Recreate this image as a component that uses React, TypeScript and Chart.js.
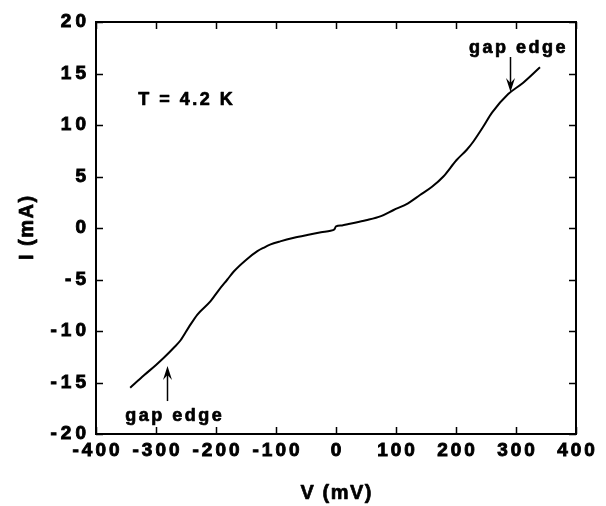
import React, { useEffect, useRef } from 'react';
import { Chart, registerables } from 'chart.js';

Chart.register(...registerables);

// Current–voltage curve (V in mV, I in mA)
const voltage = [-343, -320, -300, -287, -270, -259, -245, -231, -209, -195, -181, -170, -150, -131, -120, -110, -93, -70, -48, -25, -9, -3, 0, 10, 21, 50, 75, 96, 120, 140, 160, 179, 201, 218, 229, 245, 260, 287, 312, 340];
const current = [-15.5, -14.3, -13.3, -12.6, -11.6, -10.9, -9.6, -8.4, -7.1, -6.0, -5.0, -4.2, -3.1, -2.25, -1.9, -1.62, -1.3, -0.95, -0.68, -0.42, -0.26, -0.15, 0.15, 0.25, 0.39, 0.75, 1.15, 1.75, 2.4, 3.2, 4.0, 5.0, 6.6, 7.6, 8.4, 9.8, 11.2, 13.0, 14.1, 15.6];

// Axis settings
const xMin = -400;
const xMax = 400;
const xStep = 100;
const yMin = -20;
const yMax = 20;
const yStep = 5;
const xTitle = 'V (mV)';
const yTitle = 'I (mA)';

// Annotations (data coordinates)
const noteTexts = ['T = 4.2 K', 'gap edge', 'gap edge'];
const noteV = [-251, 302, -271];
const noteI = [11.9, 17.0, -18.7];
const arrowV = [290, -282];
const arrowFromI = [16.6, -16.8];
const arrowToI = [13.2, -13.4];

const FONT = '"Liberation Sans", Arial, Helvetica, sans-serif';

const framePlugin = {
  id: 'frameTicks',
  afterLayout(chart: any) {
    const spacing: Record<string, number> = { x: 3, y: 4 };
    ['x', 'y'].forEach((id) => {
      const s = chart.scales[id];
      if (s && !s.__patched) {
        const orig = s.drawLabels;
        s.drawLabels = function (area: any) {
          const c = this.ctx;
          c.save();
          const sp = spacing[id];
          c.letterSpacing = sp + 'px';
          c.translate(id === 'x' ? sp / 2 : sp, 0);
          orig.call(this, area);
          c.restore();
        };
        const origT = s.drawTitle;
        s.drawTitle = function () {
          const c = this.ctx;
          c.save();
          c.letterSpacing = '1.5px';
          if (id === 'x') c.translate(0.75, 0);
          else c.translate(0, -0.75);
          const f = c.fillText;
          c.fillText = function (t: string, tx: number, ty: number, mw?: number) {
            if (mw !== undefined) f.call(c, t, tx, ty, mw);
            else f.call(c, t, tx, ty);
            c.lineWidth = 0.7;
            c.strokeStyle = '#000';
            c.lineJoin = 'round';
            if (mw !== undefined) c.strokeText(t, tx, ty, mw);
            else c.strokeText(t, tx, ty);
          };
          origT.call(this);
          delete c.fillText;
          c.restore();
        };
        s.__patched = true;
      }
    });
  },
  afterDatasetsDraw(chart: any) {
    const { ctx, chartArea: a, scales } = chart;
    const x = scales.x;
    const y = scales.y;
    ctx.save();
    ctx.strokeStyle = '#000';
    ctx.lineWidth = 1.5;
    const L = 7;
    ctx.beginPath();
    x.ticks.forEach((t: any) => {
      const px = Math.round(x.getPixelForValue(t.value)) + 0.5;
      ctx.moveTo(px, a.bottom);
      ctx.lineTo(px, a.bottom - L);
      ctx.moveTo(px, a.top);
      ctx.lineTo(px, a.top + L);
    });
    y.ticks.forEach((t: any) => {
      const py = Math.round(y.getPixelForValue(t.value)) + 0.5;
      ctx.moveTo(a.left, py);
      ctx.lineTo(a.left + L, py);
      ctx.moveTo(a.right, py);
      ctx.lineTo(a.right - L, py);
    });
    ctx.stroke();
    ctx.lineWidth = 2;
    ctx.strokeRect(a.left, a.top, a.right - a.left, a.bottom - a.top);

    // annotations
    ctx.fillStyle = '#000';
    ctx.font = `bold 18px ${FONT}`;
    ctx.textBaseline = 'alphabetic';
    ctx.textAlign = 'left';
    ctx.lineWidth = 0.7;
    ctx.lineJoin = 'round';
    const sp = 2.5;
    (ctx as any).letterSpacing = sp + 'px';
    noteTexts.forEach((txt, i) => {
      const w = ctx.measureText(txt).width - sp;
      const cx = x.getPixelForValue(noteV[i]);
      const cy = y.getPixelForValue(noteI[i]);
      ctx.fillText(txt, cx - w / 2, cy);
      ctx.strokeText(txt, cx - w / 2, cy);
    });
    (ctx as any).letterSpacing = '0px';

    // arrows
    arrowV.forEach((v, i) => {
      const px = Math.round(x.getPixelForValue(v)) + 0.5;
      const y0 = y.getPixelForValue(arrowFromI[i]);
      const y1 = y.getPixelForValue(arrowToI[i]);
      const dir = y1 > y0 ? 1 : -1;
      ctx.lineWidth = 1.5;
      ctx.beginPath();
      ctx.moveTo(px, y0);
      ctx.lineTo(px, y1 - dir * 6);
      ctx.stroke();
      ctx.beginPath();
      ctx.moveTo(px, y1);
      ctx.lineTo(px - 4.5, y1 - dir * 14);
      ctx.lineTo(px, y1 - dir * 9);
      ctx.lineTo(px + 4.5, y1 - dir * 14);
      ctx.closePath();
      ctx.fill();
    });
    ctx.restore();
  },
};

export default function App() {
  const ref = useRef<HTMLCanvasElement | null>(null);
  useEffect(() => {
    if (!ref.current) return;
    const chart = new Chart(ref.current, {
      type: 'line',
      data: {
        datasets: [
          {
            data: voltage.map((v, i) => ({ x: v, y: current[i] })),
            borderColor: '#000',
            borderWidth: 2,
            pointRadius: 0,
            cubicInterpolationMode: 'monotone',
            fill: false,
          },
        ],
      },
      options: {
        responsive: false,
        animation: false,
        layout: { padding: { left: 0, top: 22, right: 30, bottom: 0 } },
        plugins: { legend: { display: false }, tooltip: { enabled: false } },
        scales: {
          x: {
            type: 'linear',
            min: xMin,
            max: xMax,
            ticks: {
              stepSize: xStep,
              color: '#000',
              padding: 5,
              textStrokeColor: '#000',
              textStrokeWidth: 0.9,
              font: { family: FONT, size: 19, weight: 'bold' },
            },
            grid: { display: false, drawTicks: false },
            border: { display: false },
            title: {
              display: true,
              text: xTitle,
              color: '#000',
              font: { family: FONT, size: 20, weight: 'bold' },
              padding: { top: 0, bottom: 1 },
            },
            afterFit: (s: any) => {
              s.height = 72;
            },
          },
          y: {
            type: 'linear',
            min: yMin,
            max: yMax,
            ticks: {
              stepSize: yStep,
              color: '#000',
              padding: 10,
              textStrokeColor: '#000',
              textStrokeWidth: 0.9,
              font: { family: FONT, size: 19, weight: 'bold' },
            },
            grid: { display: false, drawTicks: false },
            border: { display: false },
            title: {
              display: true,
              text: yTitle,
              color: '#000',
              font: { family: FONT, size: 20, weight: 'bold' },
              padding: { top: 15, bottom: 0 },
            },
            afterFit: (s: any) => {
              s.width = 96;
            },
          },
        },
      } as any,
      plugins: [framePlugin as any],
    });
    return () => chart.destroy();
  }, []);
  return (
    <div style={{ position: 'fixed', left: 0, top: 0, width: 606, height: 506, background: '#fff' }}>
      <canvas ref={ref} width={606} height={506} style={{ display: 'block' }} />
    </div>
  );
}
